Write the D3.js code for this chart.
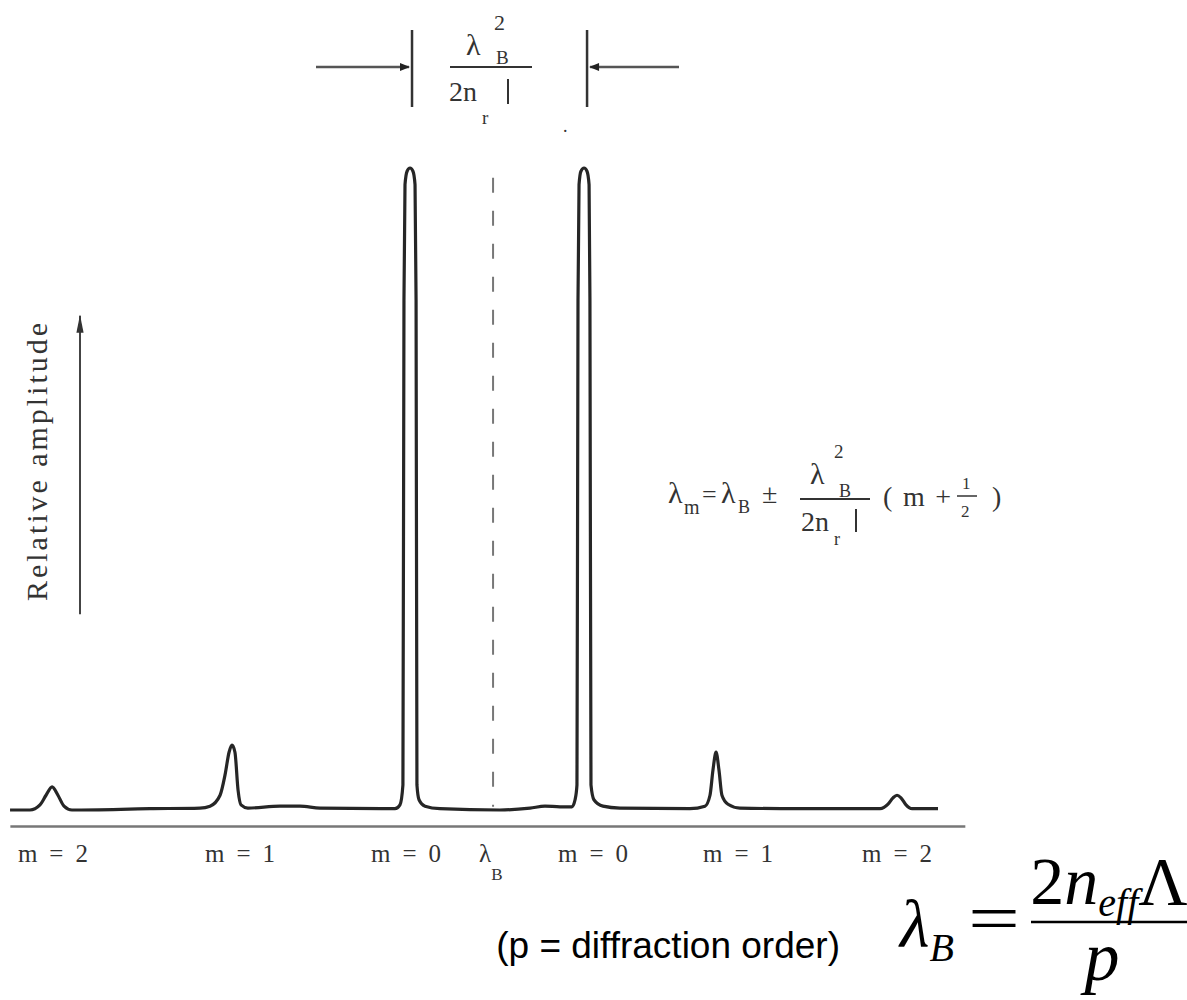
<!DOCTYPE html>
<html>
<head>
<meta charset="utf-8">
<script src="https://cdn.jsdelivr.net/npm/d3@7"></script>
<style>
  body { margin: 0; background: #fff; }
  svg { display: block; }
</style>
</head>
<body>
<div id="chart-area"></div>
<script>
// trace: wavelength offset (in mode spacings) and relative amplitude
const traceX = [-2.809, -2.694, -2.636, -2.601, -2.566, -2.532, -2.497, -2.451, -2.0, -1.711,
  -1.653, -1.595, -1.566, -1.543, -1.526, -1.509, -1.491, -1.474, -1.434, -1.249,
  -1.133, -1.017, -0.584, -0.555, -0.538, -0.532, -0.526, -0.514, -0.497, -0.480,
  -0.468, -0.462, -0.457, -0.445, -0.410, -0.324, 0.023, 0.197, 0.283, 0.370,
  0.439, 0.457, 0.468, 0.474, 0.480, 0.491, 0.509, 0.526, 0.538, 0.543,
  0.549, 0.566, 0.618, 0.717, 1.121, 1.208, 1.237, 1.254, 1.272, 1.289,
  1.306, 1.341, 1.410, 1.757, 2.220, 2.266, 2.295, 2.318, 2.341, 2.370,
  2.405, 2.555];
const traceY = [0, 0, 0.008, 0.023, 0.036, 0.023, 0.006, 0, 0.002, 0.003,
  0.006, 0.023, 0.055, 0.090, 0.101, 0.090, 0.031, 0.008, 0.003, 0.006,
  0.006, 0.003, 0.002, 0.008, 0.039, 0.794, 0.974, 0.995, 1.0, 0.995,
  0.974, 0.794, 0.039, 0.016, 0.006, 0.002, 0, 0.003, 0.006, 0.005,
  0.005, 0.016, 0.039, 0.794, 0.974, 0.995, 1.0, 0.995, 0.974, 0.794,
  0.039, 0.016, 0.006, 0.003, 0.002, 0.006, 0.023, 0.062, 0.090, 0.062,
  0.023, 0.009, 0.003, 0.002, 0.002, 0.009, 0.019, 0.023, 0.019, 0.008,
  0.002, 0.002];

// mode labels under the axis
const modeLabels = ["m = 2", "m = 1", "m = 0", "m = 0", "m = 1", "m = 2"];
const modeLabelX = [-2.561, -1.480, -0.520, 0.561, 1.399, 2.318];
// the two main modes, used for the spacing marker on top
const mainModes = [-0.497, 0.509];
const braggX = -0.017;
const axisExtent = [-2.81, 2.71];

const width = 1187, height = 1000;
const x0 = 496, unit = 173;

const svg = d3.select("#chart-area")
  .append("svg")
  .attr("width", width)
  .attr("height", height);

const defs = svg.append("defs");
defs.append("marker")
  .attr("id", "head")
  .attr("viewBox", "0 0 10 10")
  .attr("refX", 9).attr("refY", 5)
  .attr("markerWidth", 5).attr("markerHeight", 4)
  .attr("markerUnits", "strokeWidth")
  .attr("orient", "auto")
  .append("path")
  .attr("d", "M0,1 L10,5 L0,9 Z")
  .attr("fill", "#222");
defs.append("marker")
  .attr("id", "bighead")
  .attr("viewBox", "0 0 20 10")
  .attr("refX", 19).attr("refY", 5)
  .attr("markerWidth", 20).attr("markerHeight", 9)
  .attr("markerUnits", "userSpaceOnUse")
  .attr("orient", "auto")
  .append("path")
  .attr("d", "M0,1 L20,5 L0,9 Z")
  .attr("fill", "#333");

//scales
const x = d3.scaleLinear().domain([-3, 3]).range([x0 - 3 * unit, x0 + 3 * unit]);
const y = d3.scaleLinear().domain([0, 1]).range([810, 168]);

const serif = "'Liberation Serif', 'DejaVu Serif', serif";
const sans = "'Liberation Sans', Arial, sans-serif";

//axis line
const axisG = svg.append("g")
  .attr("transform", "translate(0," + y(-0.025) + ")")
  .call(d3.axisBottom(d3.scaleLinear().domain(axisExtent).range(axisExtent.map(x)))
    .tickValues([]).tickSizeOuter(0));
axisG.select(".domain").attr("stroke", "#777").attr("stroke-width", 2.5);

//bragg dashed line
svg.append("line")
  .attr("x1", x(braggX)).attr("x2", x(braggX))
  .attr("y1", y(0.985)).attr("y2", y(0.005))
  .attr("stroke", "#777")
  .attr("stroke-width", 2)
  .attr("stroke-dasharray", "15,18");

//spectrum
const trace = traceX.map((d, i) => [d, traceY[i]]);
svg.append("path")
  .datum(trace)
  .attr("fill", "none")
  .attr("stroke", "#262626")
  .attr("stroke-width", 3.2)
  .attr("stroke-linejoin", "round")
  .attr("d", d3.line().x(d => x(d[0])).y(d => y(d[1])).curve(d3.curveMonotoneX));

//mode labels
svg.selectAll(".mlab")
  .data(modeLabels)
  .enter()
  .append("text")
  .attr("class", "mlab")
  .attr("x", (d, i) => x(modeLabelX[i]))
  .attr("y", 862)
  .attr("text-anchor", "middle")
  .attr("font-family", serif)
  .attr("font-size", 25)
  .attr("fill", "#333")
  .attr("textLength", 70)
  .attr("lengthAdjust", "spacing")
  .text(d => d);

const lb = svg.append("text")
  .attr("x", x(braggX) - 14)
  .attr("y", 862)
  .attr("font-family", serif)
  .attr("font-size", 25)
  .attr("fill", "#333");
lb.append("tspan").text("λ");
lb.append("tspan").attr("dy", 18).attr("font-size", 17).text("B");

//y label and arrow
svg.append("text")
  .attr("transform", "translate(47,462) rotate(-90)")
  .attr("text-anchor", "middle")
  .attr("font-family", serif)
  .attr("font-size", 30)
  .attr("fill", "#333")
  .attr("textLength", 278)
  .attr("lengthAdjust", "spacing")
  .text("Relative amplitude");

svg.append("line")
  .attr("x1", 80).attr("x2", 80)
  .attr("y1", y(0.305)).attr("y2", y(0.77))
  .attr("stroke", "#444")
  .attr("stroke-width", 2)
  .attr("marker-end", "url(#bighead)");

//mode spacing marker
const barL = x(mainModes[0]) + 2, barR = x(mainModes[1]) + 3;
[barL, barR].forEach(bx => {
  svg.append("line")
    .attr("x1", bx).attr("x2", bx)
    .attr("y1", 30).attr("y2", 107)
    .attr("stroke", "#333").attr("stroke-width", 2.5);
});
svg.append("line")
  .attr("x1", 316).attr("x2", barL - 3)
  .attr("y1", 67).attr("y2", 67)
  .attr("stroke", "#555").attr("stroke-width", 2.5)
  .attr("marker-end", "url(#head)");
svg.append("line")
  .attr("x1", 679).attr("x2", barR + 3)
  .attr("y1", 67).attr("y2", 67)
  .attr("stroke", "#555").attr("stroke-width", 2.5)
  .attr("marker-end", "url(#head)");

function label(g, px, py, s, size) {
  return g.append("text")
    .attr("x", px).attr("y", py)
    .attr("font-family", serif)
    .attr("font-size", size)
    .attr("fill", "#333")
    .text(s);
}

// spacing fraction
const spacingG = svg.append("g");
label(spacingG, 466, 55, "λ", 30);
label(spacingG, 494, 30, "2", 22);
label(spacingG, 496, 64, "B", 19);
spacingG.append("line").attr("x1", 450).attr("x2", 532).attr("y1", 67).attr("y2", 67)
  .attr("stroke", "#333").attr("stroke-width", 2);
label(spacingG, 449, 101, "2n", 28);
label(spacingG, 482, 124, "r", 19);
spacingG.append("line").attr("x1", 508).attr("x2", 508).attr("y1", 79).attr("y2", 104)
  .attr("stroke", "#333").attr("stroke-width", 2);
label(spacingG, 563, 132, ".", 18);

// mode wavelength formula
const f = svg.append("g");
label(f, 668, 503, "λ", 30);
label(f, 684, 514, "m", 20);
label(f, 702, 503, "=", 26);
label(f, 721, 503, "λ", 30);
label(f, 738, 513, "B", 18);
label(f, 762, 503, "±", 28);
label(f, 810, 484, "λ", 30);
label(f, 834, 458, "2", 19);
label(f, 839, 497, "B", 18);
f.append("line").attr("x1", 800).attr("x2", 870).attr("y1", 499).attr("y2", 499)
  .attr("stroke", "#333").attr("stroke-width", 2);
label(f, 801, 531, "2n", 28);
label(f, 834, 545, "r", 18);
f.append("line").attr("x1", 856).attr("x2", 856).attr("y1", 509).attr("y2", 532)
  .attr("stroke", "#333").attr("stroke-width", 2);
label(f, 883, 506, "(m+", 28).attr("textLength", 68).attr("lengthAdjust", "spacing");
label(f, 962, 489, "1", 17);
f.append("line").attr("x1", 957).attr("x2", 977).attr("y1", 496).attr("y2", 496)
  .attr("stroke", "#333").attr("stroke-width", 1.5);
label(f, 961, 517, "2", 17);
label(f, 992, 506, ")", 28);

// slide text
svg.append("text")
  .attr("x", 840).attr("y", 958)
  .attr("text-anchor", "end")
  .attr("font-family", sans)
  .attr("font-size", 37)
  .attr("fill", "#000")
  .text("(p = diffraction order)");

const fm = svg.append("g").attr("font-family", serif).attr("fill", "#000");
const lam = fm.append("text").attr("x", 900).attr("y", 947).attr("font-size", 68).attr("font-style", "italic");
lam.append("tspan").text("λ");
lam.append("tspan").attr("dy", 14).attr("font-size", 40).text("B");
fm.append("text").attr("x", 968).attr("y", 941).attr("font-size", 68)
  .attr("textLength", 52).attr("lengthAdjust", "spacingAndGlyphs").text("=");
fm.append("line").attr("x1", 1031).attr("x2", 1187).attr("y1", 922).attr("y2", 922)
  .attr("stroke", "#000").attr("stroke-width", 2.5);
const num = fm.append("text").attr("x", 1109).attr("y", 904).attr("text-anchor", "middle").attr("font-size", 68);
num.append("tspan").text("2");
num.append("tspan").attr("font-style", "italic").text("n");
num.append("tspan").attr("font-style", "italic").attr("font-size", 40).attr("dy", 12).text("eff");
num.append("tspan").attr("dy", -12).text("Λ");
fm.append("text").attr("x", 1102).attr("y", 980).attr("text-anchor", "middle")
  .attr("font-size", 70).attr("font-style", "italic").text("p");
</script>
</body>
</html>
